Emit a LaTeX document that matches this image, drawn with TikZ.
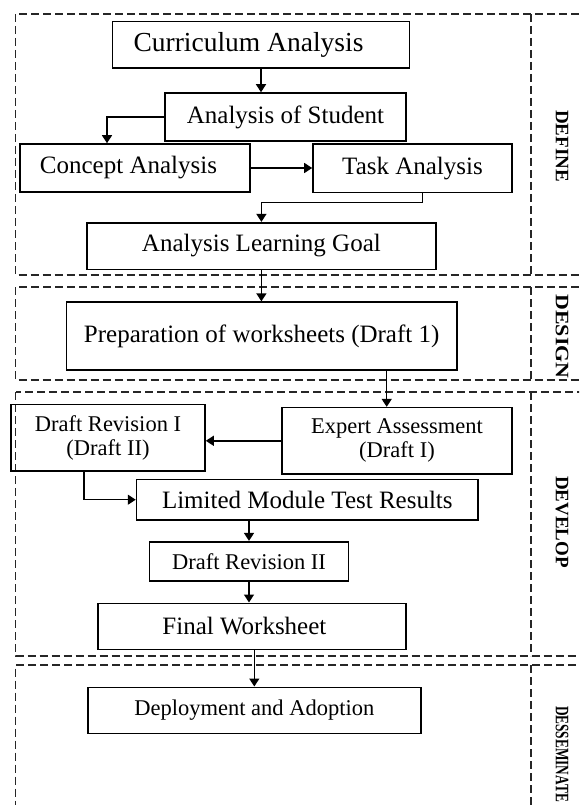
\documentclass[tikz,border=0pt]{standalone}
\usepackage{fontspec}
\setmainfont{Liberation Serif}
\usetikzlibrary{arrows.meta}
\begin{document}
\begin{tikzpicture}[x=1pt,y=-1pt,
  box/.style={draw=black, line width=1.6pt, inner sep=0pt},
  arr/.style={line width=1.4pt, -{Triangle[length=8pt,width=10pt]}},
  sect/.style={draw=black!85, line width=1.2pt, dash pattern=on 8pt off 4pt},
  lab/.style={rotate=-90, inner sep=0pt, font=\fontsize{19}{19}\selectfont\bfseries},
  fa/.style={font=\fontsize{25}{27}\selectfont},
  fb/.style={font=\fontsize{22.5}{24}\selectfont}
]
\useasboundingbox (0,0) rectangle (579,805);
\begin{scope}
\clip (0,0) rectangle (579,805);
% sections
\draw[sect] (15.5,14) rectangle (600,275);
\draw[sect] (531,14) -- (531,275);
\draw[sect] (15.5,287) rectangle (600,380);
\draw[sect] (531,287) -- (531,380);
\draw[sect] (15.5,392) rectangle (600,656);
\draw[sect] (531,392) -- (531,656);
\draw[sect] (600,665) -- (15.5,665) -- (15.5,815);
\draw[sect] (531,665) -- (531,815);
\end{scope}

% labels
\node[lab] (ldef) at (562,146) {DEFINE};
\node[lab] (ldes) at (562,336.5) {\scalebox{1.15}[1]{DESIGN}};
\node[lab] (ldev) at (562,522) {DEVELOP};
\node[lab] (ldis) at (562,754) {\scalebox{0.70}[1]{DESSEMINATE}};

% boxes
\node[box, minimum width=297pt, minimum height=46.6pt, font=\fontsize{27.5}{30}\selectfont] (cur) at (261,45) {Curriculum Analysis\hspace*{25pt}};
\node[box, fa, minimum width=241pt, minimum height=47.7pt] (aos) at (285.5,116.9) {Analysis of Student};
\node[box, fa, minimum width=229.7pt, minimum height=48pt] (con) at (135,168) {Concept Analysis\hspace*{13pt}};
\node[box, fa, minimum width=199pt, minimum height=48.7pt] (task) at (412.5,168.3) {Task Analysis};
\node[box, fa, minimum width=349.3pt, minimum height=46.6pt] (alg) at (261.4,246) {Analysis Learning Goal};
\node[box, fa, minimum width=390.6pt, minimum height=67.7pt] (prep) at (261.7,336) {Preparation of worksheets (Draft 1)};
\node[box, fb, align=center, minimum width=230pt, minimum height=66.3pt] (exp) at (397,440.8) {Expert Assessment\\(Draft I)};
\node[box, fb, align=center, minimum width=194pt, minimum height=66.7pt] (dr1) at (108,437.7) {Draft Revision I\\(Draft II)};
\node[box, fa, minimum width=341.5pt, minimum height=40.7pt] (lmtr) at (307.3,499.7) {Limited Module Test Results};
\node[box, fb, minimum width=199.3pt, minimum height=39pt] (dr2) at (249,561.2) {Draft Revision II};
\node[box, fa, minimum width=308.2pt, minimum height=46pt] (fw) at (251.9,626.3) {Final Worksheet\hspace*{15pt}};
\node[box, fb, minimum width=333pt, minimum height=46pt] (dep) at (254.3,710.3) {Deployment and Adoption};

% connectors
\draw[arr] (cur.south) -- (cur.south |- aos.north);
\draw[arr] (aos.west) -| ([xshift=-28pt]con.north);
\draw[arr] (con.east) -- (con.east -| task.west);
\draw[arr] ([xshift=10pt]task.south) -- ++(0,9) -| (alg.north);
\draw[arr] (alg.south) -- (alg.south |- prep.north);
\draw[arr] ([xshift=125pt]prep.south) -- ([xshift=125pt]prep.south |- exp.north);
\draw[arr] (exp.west) -- (exp.west -| dr1.east);
\draw[arr] ([xshift=-24pt]dr1.south) |- (lmtr.west);
\draw[arr] (dr2.north |- lmtr.south) -- (dr2.north);
\draw[arr] (dr2.south) -- (dr2.south |- fw.north);
\draw[arr] (dep.north |- fw.south) -- (dep.north);
\end{tikzpicture}
\end{document}
